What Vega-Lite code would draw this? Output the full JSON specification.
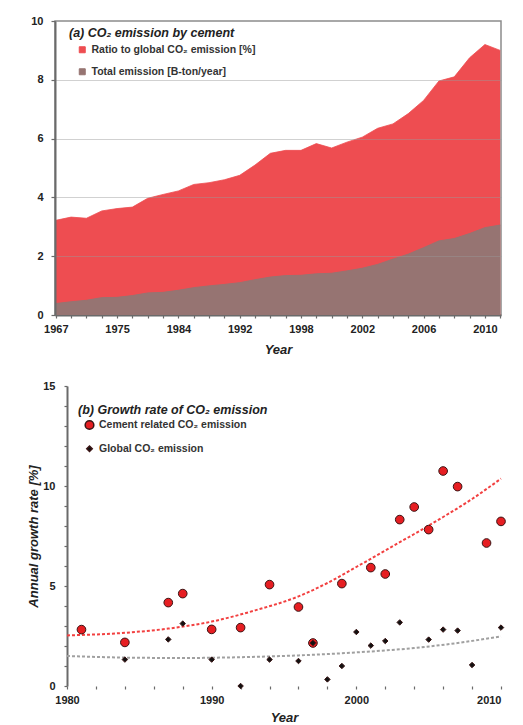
{
  "$schema": "https://vega.github.io/schema/vega-lite/v6.json",
  "background": "white",
  "padding": {"left": 27, "top": 14, "right": 4, "bottom": 2},
  "spacing": 23,
  "columns": 1,
  "align": "none",
  "resolve": {
    "scale": {"color": "independent", "shape": "independent", "size": "independent"},
    "legend": {"color": "independent", "shape": "independent", "size": "independent"}
  },
  "datasets": {
    "a": [
      {"Year": 1967, "ratio": 3.22, "total": 0.39},
      {"Year": 1969, "ratio": 3.33, "total": 0.45},
      {"Year": 1971, "ratio": 3.29, "total": 0.50},
      {"Year": 1973, "ratio": 3.54, "total": 0.59},
      {"Year": 1975, "ratio": 3.62, "total": 0.60},
      {"Year": 1977, "ratio": 3.67, "total": 0.66},
      {"Year": 1979, "ratio": 3.97, "total": 0.75},
      {"Year": 1982, "ratio": 4.10, "total": 0.77},
      {"Year": 1984, "ratio": 4.22, "total": 0.84},
      {"Year": 1986, "ratio": 4.44, "total": 0.93},
      {"Year": 1988, "ratio": 4.50, "total": 0.99},
      {"Year": 1990, "ratio": 4.60, "total": 1.04},
      {"Year": 1992, "ratio": 4.75, "total": 1.10},
      {"Year": 1993, "ratio": 5.10, "total": 1.20},
      {"Year": 1994, "ratio": 5.50, "total": 1.29},
      {"Year": 1996, "ratio": 5.60, "total": 1.34},
      {"Year": 1998, "ratio": 5.60, "total": 1.35},
      {"Year": 1999, "ratio": 5.83, "total": 1.40},
      {"Year": 2000, "ratio": 5.68, "total": 1.42},
      {"Year": 2001, "ratio": 5.88, "total": 1.50},
      {"Year": 2002, "ratio": 6.05, "total": 1.59},
      {"Year": 2003, "ratio": 6.35, "total": 1.72},
      {"Year": 2004, "ratio": 6.50, "total": 1.90},
      {"Year": 2005, "ratio": 6.85, "total": 2.07},
      {"Year": 2006, "ratio": 7.30, "total": 2.29},
      {"Year": 2007, "ratio": 7.96, "total": 2.52},
      {"Year": 2008, "ratio": 8.10, "total": 2.60},
      {"Year": 2009, "ratio": 8.75, "total": 2.77},
      {"Year": 2010, "ratio": 9.20, "total": 2.97},
      {"Year": 2011, "ratio": 9.00, "total": 3.06}
    ],
    "b": [
      {"year": 1981, "series": "Cement related CO₂ emission", "rate": 2.82},
      {"year": 1984, "series": "Cement related CO₂ emission", "rate": 2.18},
      {"year": 1987, "series": "Cement related CO₂ emission", "rate": 4.17},
      {"year": 1988, "series": "Cement related CO₂ emission", "rate": 4.62},
      {"year": 1990, "series": "Cement related CO₂ emission", "rate": 2.83},
      {"year": 1992, "series": "Cement related CO₂ emission", "rate": 2.92},
      {"year": 1994, "series": "Cement related CO₂ emission", "rate": 5.07},
      {"year": 1996, "series": "Cement related CO₂ emission", "rate": 3.95},
      {"year": 1997, "series": "Cement related CO₂ emission", "rate": 2.15},
      {"year": 1999, "series": "Cement related CO₂ emission", "rate": 5.12},
      {"year": 2001, "series": "Cement related CO₂ emission", "rate": 5.92},
      {"year": 2002, "series": "Cement related CO₂ emission", "rate": 5.60},
      {"year": 2003, "series": "Cement related CO₂ emission", "rate": 8.32},
      {"year": 2004, "series": "Cement related CO₂ emission", "rate": 8.95},
      {"year": 2005, "series": "Cement related CO₂ emission", "rate": 7.82},
      {"year": 2006, "series": "Cement related CO₂ emission", "rate": 10.75},
      {"year": 2007, "series": "Cement related CO₂ emission", "rate": 9.97},
      {"year": 2009, "series": "Cement related CO₂ emission", "rate": 7.15},
      {"year": 2010, "series": "Cement related CO₂ emission", "rate": 8.23},
      {"year": 1984, "series": "Global CO₂ emission", "rate": 1.32},
      {"year": 1987, "series": "Global CO₂ emission", "rate": 2.33},
      {"year": 1988, "series": "Global CO₂ emission", "rate": 3.12},
      {"year": 1990, "series": "Global CO₂ emission", "rate": 1.32},
      {"year": 1992, "series": "Global CO₂ emission", "rate": 0.0},
      {"year": 1994, "series": "Global CO₂ emission", "rate": 1.32},
      {"year": 1996, "series": "Global CO₂ emission", "rate": 1.25},
      {"year": 1997, "series": "Global CO₂ emission", "rate": 2.15},
      {"year": 1998, "series": "Global CO₂ emission", "rate": 0.33},
      {"year": 1999, "series": "Global CO₂ emission", "rate": 1.0},
      {"year": 2000, "series": "Global CO₂ emission", "rate": 2.7},
      {"year": 2001, "series": "Global CO₂ emission", "rate": 2.02},
      {"year": 2002, "series": "Global CO₂ emission", "rate": 2.25},
      {"year": 2003, "series": "Global CO₂ emission", "rate": 3.18},
      {"year": 2005, "series": "Global CO₂ emission", "rate": 2.32},
      {"year": 2006, "series": "Global CO₂ emission", "rate": 2.82},
      {"year": 2007, "series": "Global CO₂ emission", "rate": 2.77},
      {"year": 2008, "series": "Global CO₂ emission", "rate": 1.05},
      {"year": 2010, "series": "Global CO₂ emission", "rate": 2.92}
    ],
    "trend": [
      {"year": 1980, "s": "cement", "rate": 2.53},
      {"year": 1984, "s": "cement", "rate": 2.66},
      {"year": 1987, "s": "cement", "rate": 2.87},
      {"year": 1990, "s": "cement", "rate": 3.22},
      {"year": 1993, "s": "cement", "rate": 3.78},
      {"year": 1996, "s": "cement", "rate": 4.48},
      {"year": 1998, "s": "cement", "rate": 5.15},
      {"year": 2000, "s": "cement", "rate": 5.95},
      {"year": 2002, "s": "cement", "rate": 6.78},
      {"year": 2004, "s": "cement", "rate": 7.6},
      {"year": 2006, "s": "cement", "rate": 8.45},
      {"year": 2008, "s": "cement", "rate": 9.35},
      {"year": 2010, "s": "cement", "rate": 10.37},
      {"year": 1980, "s": "global", "rate": 1.5},
      {"year": 1984, "s": "global", "rate": 1.42},
      {"year": 1988, "s": "global", "rate": 1.4},
      {"year": 1992, "s": "global", "rate": 1.44},
      {"year": 1996, "s": "global", "rate": 1.53},
      {"year": 2000, "s": "global", "rate": 1.68},
      {"year": 2004, "s": "global", "rate": 1.9},
      {"year": 2007, "s": "global", "rate": 2.15},
      {"year": 2010, "s": "global", "rate": 2.48}
    ]
  },
  "config": {
    "font": "Liberation Sans",
    "view": {"stroke": "#8c8c8c", "strokeWidth": 1.5},
    "axis": {
      "labelFont": "Liberation Sans", "labelFontWeight": "bold", "labelFontSize": 11, "labelColor": "#222222",
      "titleFont": "Liberation Sans", "titleFontWeight": "bold", "titleFontStyle": "italic", "titleFontSize": 13, "titleColor": "#222222",
      "domainColor": "#6a6a6a", "domainWidth": 2, "tickColor": "#6a6a6a", "tickWidth": 1.2, "tickSize": 3, "labelOverlap": false
    },
    "legend": {
      "labelFont": "Liberation Sans", "labelFontWeight": "bold", "labelFontSize": 10.5, "labelColor": "#333333",
      "titleFont": "Liberation Sans", "titleFontWeight": "bold", "titleFontStyle": "italic", "titleFontSize": 12.5, "titleColor": "#222222",
      "labelLimit": 400, "titleLimit": 400
    }
  },
  "concat": [
    {
      "width": 446,
      "height": 294,
      "data": {"name": "a"},
      "encoding": {
        "x": {
          "field": "Year", "type": "ordinal",
          "scale": {"type": "point", "padding": 0.05},
          "axis": {
            "labelAngle": 0, "title": "Year", "titlePadding": 9, "labelPadding": 5, "grid": false, "labelOverlap": false,
            "labelExpr": "indexof(['1967','1975','1984','1992','1998','2002','2006','2010'], datum.label) >= 0 ? datum.label : ''"
          }
        }
      },
      "layer": [
        {
          "mark": {"type": "area", "opacity": 1, "line": {"color": "#b83a3c", "strokeWidth": 0.8}},
          "encoding": {
            "y": {
              "field": "ratio", "type": "quantitative", "scale": {"domain": [0, 10]},
              "axis": {
                "title": null, "values": [0,0.5,1,1.5,2,2.5,3,3.5,4,4.5,5,5.5,6,6.5,7,7.5,8,8.5,9,9.5,10],
                "labelExpr": "datum.value % 2 === 0 ? datum.label : ''", "labelOverlap": false,
                "tickSize": 4, "labelPadding": 8, "grid": true, "gridColor": "#9a9a9a",
                "gridOpacity": {"condition": {"test": "datum.value % 2 === 0 && datum.value > 0 && datum.value < 10", "value": 0.45}, "value": 0},
                "zindex": 1
              }
            },
            "color": {
              "datum": "Ratio to global CO₂ emission [%]",
              "scale": {"domain": ["Ratio to global CO₂ emission [%]", "Total emission [B-ton/year]"], "range": ["#ee4d51", "#967472"]},
              "legend": {
                "orient": "none", "legendX": 14, "legendY": 6,
                "title": "(a) CO₂ emission by cement",
                "symbolType": "square", "symbolSize": 36, "symbolStrokeColor": "#444444", "symbolStrokeWidth": 1,
                "symbolOffset": 8, "titlePadding": 5, "rowPadding": 11
              }
            }
          }
        },
        {
          "mark": {"type": "area", "opacity": 1, "line": {"color": "#6a4e4c", "strokeWidth": 1}},
          "encoding": {
            "y": {"field": "total", "type": "quantitative"},
            "color": {"datum": "Total emission [B-ton/year]"}
          }
        }
      ]
    },
    {
      "width": 446,
      "height": 300,
      "view": {"stroke": null},
      "encoding": {
        "x": {
          "field": "year", "type": "quantitative", "scale": {"domain": [1979.1705, 2010], "nice": false, "zero": false},
          "axis": {
            "title": "Year", "format": "d", "titlePadding": 6, "labelPadding": 5, "grid": false, "labelOverlap": false,
            "domain": false, "titleX": 229,
            "values": [1980,1982,1984,1986,1988,1990,1992,1994,1996,1998,2000,2002,2004,2006,2008,2010],
            "labelExpr": "datum.value % 10 === 0 ? datum.label : ''"
          }
        },
        "y": {
          "field": "rate", "type": "quantitative", "scale": {"domain": [0, 15], "nice": false},
          "axis": {
            "title": "Annual growth rate [%]", "titleFontSize": 13, "titlePadding": 2, "labelPadding": 9, "labelOverlap": false,
            "offset": -12, "grid": false,
            "values": [0,1,2,3,4,5,6,7,8,9,10,11,12,13,14,15],
            "labelExpr": "datum.value % 5 === 0 ? datum.label : ''"
          }
        }
      },
      "layer": [
        {
          "data": {"values": [{}]},
          "mark": {"type": "rule", "color": "#e6e6e6", "strokeWidth": 1},
          "encoding": {"x": {"datum": 1980}, "x2": {"datum": 2010}, "y": {"datum": 5}}
        },
        {
          "data": {"values": [{}]},
          "mark": {"type": "rule", "color": "#e6e6e6", "strokeWidth": 1},
          "encoding": {"x": {"datum": 1980}, "x2": {"datum": 2010}, "y": {"datum": 10}}
        },
        {
          "data": {"values": [{}]},
          "mark": {"type": "rule", "color": "#8c8c8c", "strokeWidth": 1.5},
          "encoding": {"x": {"datum": 1980}, "x2": {"datum": 2010}, "y": {"datum": 15}}
        },
        {
          "data": {"values": [{}]},
          "mark": {"type": "rule", "color": "#8c8c8c", "strokeWidth": 1.5},
          "encoding": {"x": {"datum": 2010}, "y": {"datum": 0}, "y2": {"datum": 15}}
        },
        {
          "data": {"values": [{}]},
          "mark": {"type": "rule", "color": "#6a6a6a", "strokeWidth": 2},
          "encoding": {"x": {"datum": 1980}, "x2": {"datum": 2010}, "y": {"datum": 0}}
        },
        {
          "data": {"name": "trend"},
          "transform": [{"filter": "datum.s === 'cement'"}],
          "mark": {"type": "line", "color": "#f24040", "strokeDash": [3, 2], "strokeWidth": 2, "interpolate": "monotone"}
        },
        {
          "data": {"name": "trend"},
          "transform": [{"filter": "datum.s === 'global'"}],
          "mark": {"type": "line", "color": "#a0a0a0", "strokeDash": [3, 2], "strokeWidth": 2, "interpolate": "monotone"}
        },
        {
          "data": {"name": "b"},
          "mark": {"type": "point", "filled": true, "stroke": "#3a1414", "strokeWidth": 1, "opacity": 1},
          "encoding": {
            "color": {
              "field": "series", "type": "nominal",
              "scale": {"domain": ["Cement related CO₂ emission", "Global CO₂ emission"], "range": ["#e61e22", "#111111"]},
              "legend": {
                "orient": "none", "legendX": 23, "legendY": 18,
                "title": "(b) Growth rate of CO₂ emission",
                "symbolOffset": 6, "titlePadding": 3, "rowPadding": 10
              }
            },
            "shape": {
              "field": "series", "type": "nominal",
              "scale": {"domain": ["Cement related CO₂ emission", "Global CO₂ emission"], "range": ["circle", "diamond"]}
            },
            "size": {
              "field": "series", "type": "nominal",
              "scale": {"domain": ["Cement related CO₂ emission", "Global CO₂ emission"], "range": [75, 30]}
            }
          }
        }
      ]
    }
  ]
}
